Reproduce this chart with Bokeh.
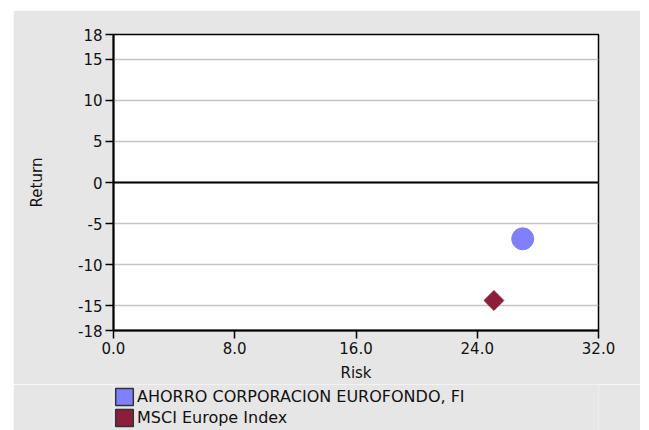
from bokeh.plotting import figure
from bokeh.layouts import column
from bokeh.models import (Range1d, FixedTicker, PrintfTickFormatter, Span,
                          Legend, LegendItem)
from bokeh.embed import file_html
from bokeh.resources import INLINE

# ---- data ----
fund_name = "AHORRO CORPORACION EUROFONDO, FI"
index_name = "MSCI Europe Index"
fund_risk = [27.0]
fund_return = [-6.85]
index_risk = [25.1]
index_return = [-14.35]
x_ticks = [0, 8, 16, 24, 32]
y_ticks = [-18, -15, -10, -5, 0, 5, 10, 15, 18]

FONT = "DejaVu Sans"
BG = "#e6e6e6"
BLUE = "#8080ff"
RED = "#8b1e3a"

p = figure(frame_width=485, frame_height=296,
           min_border_left=100, min_border_right=42,
           min_border_top=24, min_border_bottom=53,
           x_range=Range1d(0, 32), y_range=Range1d(-18, 18),
           output_backend="svg", toolbar_location=None,
           background_fill_color="white", border_fill_color=BG)
p.margin = (10, 0, 0, 13)

p.outline_line_color = "black"
p.outline_line_width = 1.5

# axes
for ax in (p.xaxis[0], p.yaxis[0]):
    ax.axis_line_color = "black"
    ax.axis_line_width = 2
    ax.major_tick_line_color = "black"
    ax.major_tick_line_width = 1.5
    ax.major_tick_out = 8
    ax.major_tick_in = 0
    ax.minor_tick_out = 0
    ax.minor_tick_in = 0
    ax.major_label_text_font = FONT
    ax.major_label_text_font_size = "15px"
    ax.major_label_text_color = "#111111"
    ax.axis_label_text_font = FONT
    ax.axis_label_text_font_size = "15px"
    ax.axis_label_text_font_style = "normal"
    ax.axis_label_text_color = "#111111"

p.xaxis.ticker = FixedTicker(ticks=x_ticks)
p.xaxis.formatter = PrintfTickFormatter(format="%.1f")
p.xaxis.axis_label = "Risk"
p.xaxis.major_label_standoff = 3
p.xaxis.axis_label_standoff = 7

p.yaxis.ticker = FixedTicker(ticks=y_ticks)
p.yaxis.formatter = PrintfTickFormatter(format="%d")
p.yaxis.axis_label = "Return"
p.yaxis.major_label_standoff = 3
p.yaxis.axis_label_standoff = 29

p.xgrid.visible = False
p.ygrid.grid_line_color = "#c4c4c4"
p.ygrid.grid_line_width = 1.5

p.add_layout(Span(location=0, dimension="width", line_color="black", line_width=2))

# markers
p.scatter(fund_risk, fund_return, marker="circle", size=22,
          fill_color=BLUE, line_color=BLUE)
p.scatter(index_risk, index_return, marker="square", size=14, angle=0.785398,
          fill_color=RED, line_color=RED)

# ---- legend strip (separate figure, so it is not clipped) ----
lg = figure(width=627, height=47,
            min_border_left=0, min_border_right=0, min_border_top=0, min_border_bottom=0,
            x_range=Range1d(0, 1), y_range=Range1d(0, 1),
            output_backend="svg", toolbar_location=None,
            background_fill_color=BG, border_fill_color=BG)
lg.margin = (0, 0, 0, 13)
lg.axis.visible = False
lg.grid.visible = False
lg.outline_line_color = None

# zero-size proxies (outside this strip's ranges) that give the legend its swatches
q1 = lg.quad(left=fund_risk, right=fund_risk, top=fund_return, bottom=fund_return,
             fill_color=BLUE, line_color="#333333", line_width=1.5)
q2 = lg.quad(left=index_risk, right=index_risk, top=index_return, bottom=index_return,
             fill_color=RED, line_color="#333333", line_width=1.5)

legend = Legend(items=[LegendItem(label=fund_name, renderers=[q1]),
                       LegendItem(label=index_name, renderers=[q2])],
                location=(0, 3), orientation="vertical",
                glyph_width=22, glyph_height=21, label_height=21,
                spacing=0, padding=0, margin=0, label_standoff=2,
                label_text_font=FONT, label_text_font_size="16px",
                label_text_color="#111111",
                border_line_alpha=0, background_fill_alpha=0)
lg.add_layout(legend)

layout = column(p, lg, spacing=0)
open("out.html", "w").write(file_html(layout, INLINE))
